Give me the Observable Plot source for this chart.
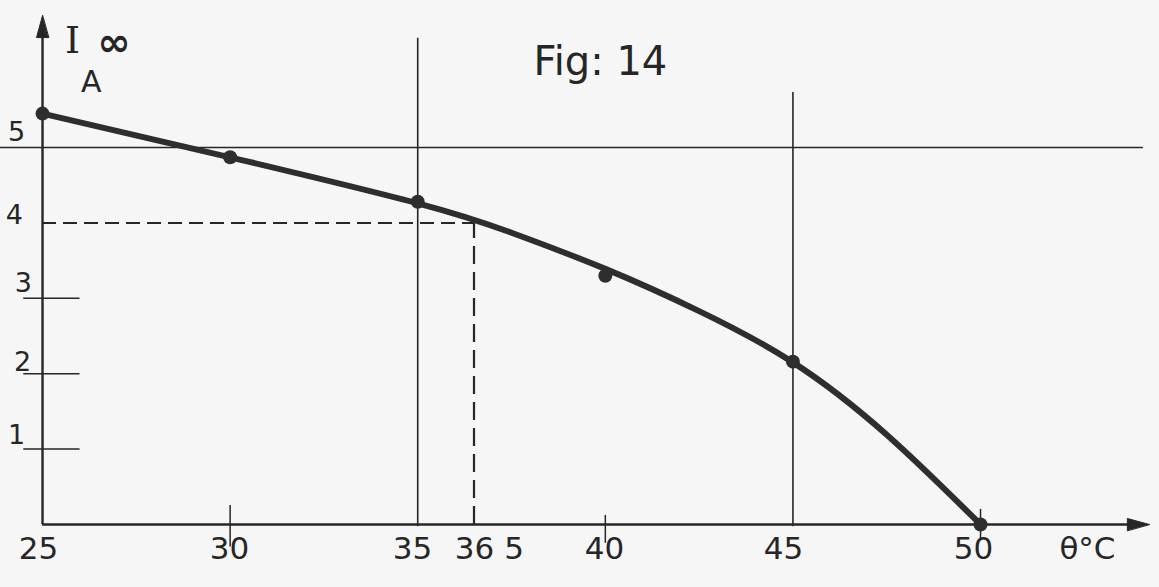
<!DOCTYPE html>
<html>
<head>
<meta charset="utf-8">
<script src="https://cdn.jsdelivr.net/npm/d3@7"></script>
<script src="https://cdn.jsdelivr.net/npm/@observablehq/plot@0.6"></script>
<style>
  html, body { margin: 0; padding: 0; background: #f6f6f6; }
  #chart svg { display: block; }
</style>
</head>
<body>
<div id="chart"></div>
<script>
// Measured points (θ °C, I∞ A)
const pointTemps = [25, 30, 35, 40, 45, 50];
const pointCurrents = [5.45, 4.87, 4.28, 3.30, 2.16, 0];

// Hand-drawn fitted curve
const curveTemps = [25, 30, 35, 37.5, 40, 42.5, 45, 47.5, 50];
const curveCurrents = [5.45, 4.87, 4.26, 3.87, 3.39, 2.83, 2.15, 1.19, 0];

// Reading at I = 4 A
const readCurrent = 4;
const readTemp = 36.5;

// Vertical guide lines (temp, top value)
const guideTemps = [35, 45];
const guideTops = [6.45, 5.73];
const refCurrent = 5;

// Small tick marks
const yTickValues = [1, 2, 3];
const xTickValues = [30, 40, 50];
const xTickLows = [-0.3, -0.25, -0.2];
const xTickHighs = [0.25, 0.12, 0.2];

// Tick labels
const xLabels = ["25", "30", "35", "36 5", "40", "45", "50", "θ°C"];
const xLabelPos = [24.89, 29.98, 34.86, 36.91, 39.98, 44.75, 49.81, 52.85];
const yLabels = ["1", "2", "3", "4", "5"];
const yLabelPos = [1.18, 2.15, 3.2, 4.1, 5.2];
const yLabelX = [24.31, 24.47, 24.49, 24.25, 24.31];

const title = "Fig: 14";
const yTitle1 = "I";
const yTitle2 = "∞";
const yUnit = "A";

const ink = "#262626";
const font = "DejaVu Sans";

const points = pointTemps.map((t, i) => ({t, v: pointCurrents[i]}));
const curve = curveTemps.map((t, i) => ({t, v: curveCurrents[i]}));
const guides = guideTemps.map((t, i) => ({t, top: guideTops[i]}));
const xTicks = xTickValues.map((t, i) => ({t, lo: xTickLows[i], hi: xTickHighs[i]}));
const xLab = xLabels.map((s, i) => ({s, t: xLabelPos[i]}));
const yLab = yLabels.map((s, i) => ({s, v: yLabelPos[i], t: yLabelX[i]}));

const triangle = {
  draw(ctx, l, r) {
    ctx.moveTo(0, -l);
    ctx.lineTo(-6, 0);
    ctx.lineTo(6, 0);
    ctx.closePath();
  }
};

const chart = Plot.plot({
  width: 1159,
  height: 587,
  margin: 0,
  style: {background: "#f6f6f6", color: ink},
  x: {domain: [23.88, 54.77], axis: null},
  y: {domain: [-0.836, 6.95], axis: null},
  marks: [
    // reference line at 5 A
    Plot.ruleY([refCurrent], {x1: 23.88, x2: 54.34, stroke: ink, strokeWidth: 1.4}),
    // vertical guides
    Plot.ruleX(guides, {x: "t", y1: -0.03, y2: "top", stroke: ink, strokeWidth: 1.6}),
    // y small ticks
    Plot.ruleY(yTickValues, {x1: 24.5, x2: 26.0, stroke: ink, strokeWidth: 1.5}),
    // x small ticks
    Plot.ruleX(xTicks, {x: "t", y1: "lo", y2: "hi", stroke: ink, strokeWidth: 1.5}),
    // dashed reading lines
    Plot.ruleY([readCurrent], {x1: 25, x2: readTemp, stroke: ink, strokeWidth: 2, strokeDasharray: "14,7"}),
    Plot.ruleX([readTemp], {y1: 0, y2: readCurrent, stroke: ink, strokeWidth: 2.2, strokeDasharray: "18,8"}),
    // axes
    Plot.ruleY([0], {x1: 25, x2: 54.2, stroke: ink, strokeWidth: 2.4}),
    Plot.ruleX([25], {y1: 0, y2: 6.55, stroke: ink, strokeWidth: 2.4}),
    Plot.vector([{t: 54.5, v: 0}], {x: "t", y: "v", length: 22, rotate: 90, anchor: "end", shape: triangle, fill: ink, stroke: ink, strokeWidth: 1}),
    Plot.vector([{t: 25, v: 6.75}], {x: "t", y: "v", length: 22, rotate: 0, anchor: "end", shape: triangle, fill: ink, stroke: ink, strokeWidth: 1}),
    // curve and points
    Plot.line(curve, {x: "t", y: "v", curve: "natural", stroke: "#2e2e2e", strokeWidth: 6, strokeLinecap: "round"}),
    Plot.dot(points, {x: "t", y: "v", r: 7, fill: "#2e2e2e"}),
    // labels
    Plot.text(xLab, {x: "t", y: -0.32, text: "s", fontSize: 31, fontFamily: font, fill: ink}),
    Plot.text(yLab, {x: "t", y: "v", text: "s", fontSize: 27, fontFamily: font, fill: ink}),
    Plot.text([title], {x: 39.87, y: 6.13, text: d => d, fontSize: 40, fontFamily: font, fill: ink}),
    Plot.text([yTitle1], {x: 25.8, y: 6.42, text: d => d, fontSize: 38, fontFamily: "DejaVu Serif", fill: ink}),
    Plot.text([yTitle2], {x: 26.9, y: 6.38, text: d => d, fontSize: 40, fontWeight: "bold", fontFamily: font, fill: ink}),
    Plot.text([yUnit], {x: 26.3, y: 5.86, text: d => d, fontSize: 30, fontFamily: font, fill: ink})
  ]
});
document.getElementById("chart").appendChild(chart);
</script>
</body>
</html>
